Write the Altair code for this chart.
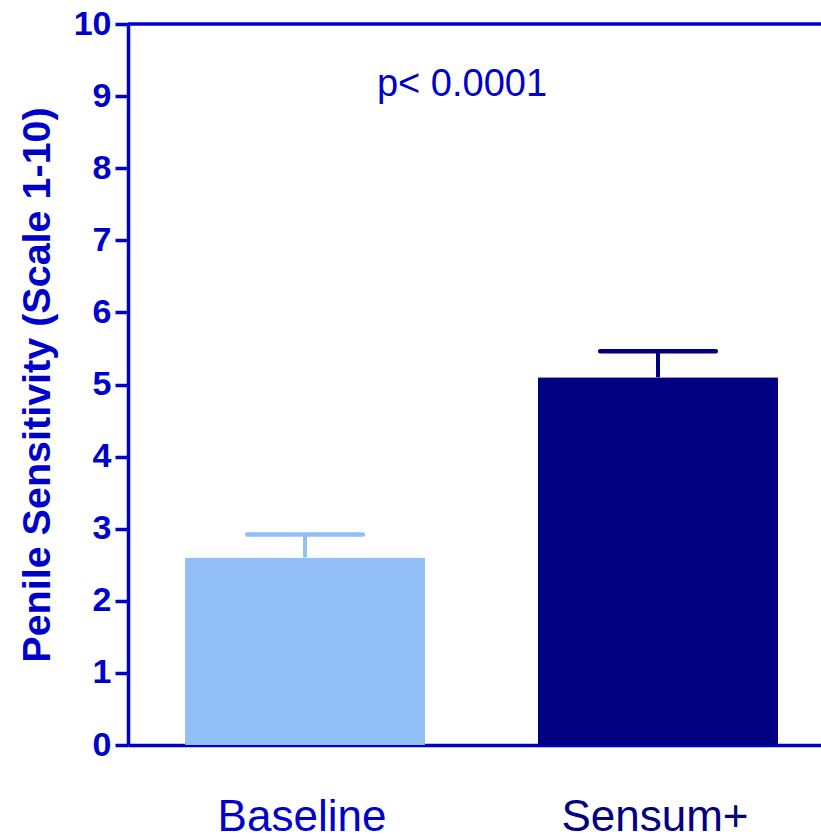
import altair as alt
import pandas as pd

# Data
categories = ["Baseline", "Sensum+"]
means = [2.60, 5.10]
errors_upper = [2.92, 5.46]
bar_colors = ["#93BFF7", "#000080"]
annotation_text = ["p< 0.0001"]
annotation_y = [9.0]
y_ticks = [0, 1, 2, 3, 4, 5, 6, 7, 8, 9, 10]

AXIS_BLUE = "#0000CC"
FONT = "Liberation Sans"

df = pd.DataFrame({"cat": categories, "mean": means, "upper": errors_upper})
ann = pd.DataFrame({"label": annotation_text, "y": annotation_y})

xscale = alt.Scale(domain=categories, range=[0, 707], paddingInner=0.32, paddingOuter=0.1615)
yscale = alt.Scale(domain=[0, 10], nice=False, zero=True)
color = alt.Color("cat:N", scale=alt.Scale(domain=categories, range=bar_colors), legend=None)

x_axis = alt.Axis(
    title=None,
    labelAngle=0,
    ticks=False,
    domainColor=AXIS_BLUE,
    domainWidth=3.5,
    labelFont=FONT,
    labelFontSize=44,
    labelFontWeight="normal",
    labelLimit=0,
    labelColor=alt.condition("datum.value == 'Sensum+'", alt.value("#000080"), alt.value(AXIS_BLUE)),
    labelPadding=50,
    labelBaseline="top",
    labelOffset=-3,
)

y_axis = alt.Axis(
    title="Penile Sensitivity (Scale 1-10)",
    titleFont=FONT,
    titleFontSize=39.5,
    titleFontWeight="bold",
    titleColor=AXIS_BLUE,
    titlePadding=16,
    values=y_ticks,
    format="d",
    grid=False,
    domainColor=AXIS_BLUE,
    domainWidth=3.5,
    tickColor=AXIS_BLUE,
    tickWidth=3.5,
    tickSize=13,
    labelFont=FONT,
    labelFontSize=34,
    labelFontWeight="bold",
    labelColor=AXIS_BLUE,
    labelPadding=4,
)

base = alt.Chart(df)

bars = base.mark_bar(cornerRadius=1).encode(
    x=alt.X("cat:N", scale=xscale, axis=x_axis, sort=categories),
    y=alt.Y("mean:Q", scale=yscale, axis=y_axis),
    color=color,
)

stems = base.mark_rule(strokeWidth=4).encode(
    x=alt.X("cat:N", scale=xscale, sort=categories),
    y=alt.Y("mean:Q", scale=yscale),
    y2="upper:Q",
    color=color,
)

caps = base.mark_tick(size=120, thickness=4.5, cornerRadius=2, opacity=1).encode(
    x=alt.X("cat:N", scale=xscale, sort=categories),
    y=alt.Y("upper:Q", scale=yscale),
    color=color,
)

top_line = alt.Chart(pd.DataFrame({"v": [10]})).mark_rule(strokeWidth=3.5, color=AXIS_BLUE).encode(
    y=alt.Y("v:Q", scale=yscale)
)

text = alt.Chart(ann).mark_text(
    font=FONT, fontSize=38, color=AXIS_BLUE, align="center", baseline="alphabetic"
).encode(
    x=alt.value(334),
    y=alt.Y("y:Q", scale=yscale),
    text="label:N",
)

chart = alt.layer(bars, stems, caps, top_line, text).properties(
    width=693,
    height=721,
    autosize=alt.AutoSizeParams(type="none"),
    padding={"left": 128, "top": 24, "right": 0, "bottom": 93},
    background="white",
).configure_view(stroke=None)

chart.save("out.html", embed_options={"renderer": "svg", "actions": False})
